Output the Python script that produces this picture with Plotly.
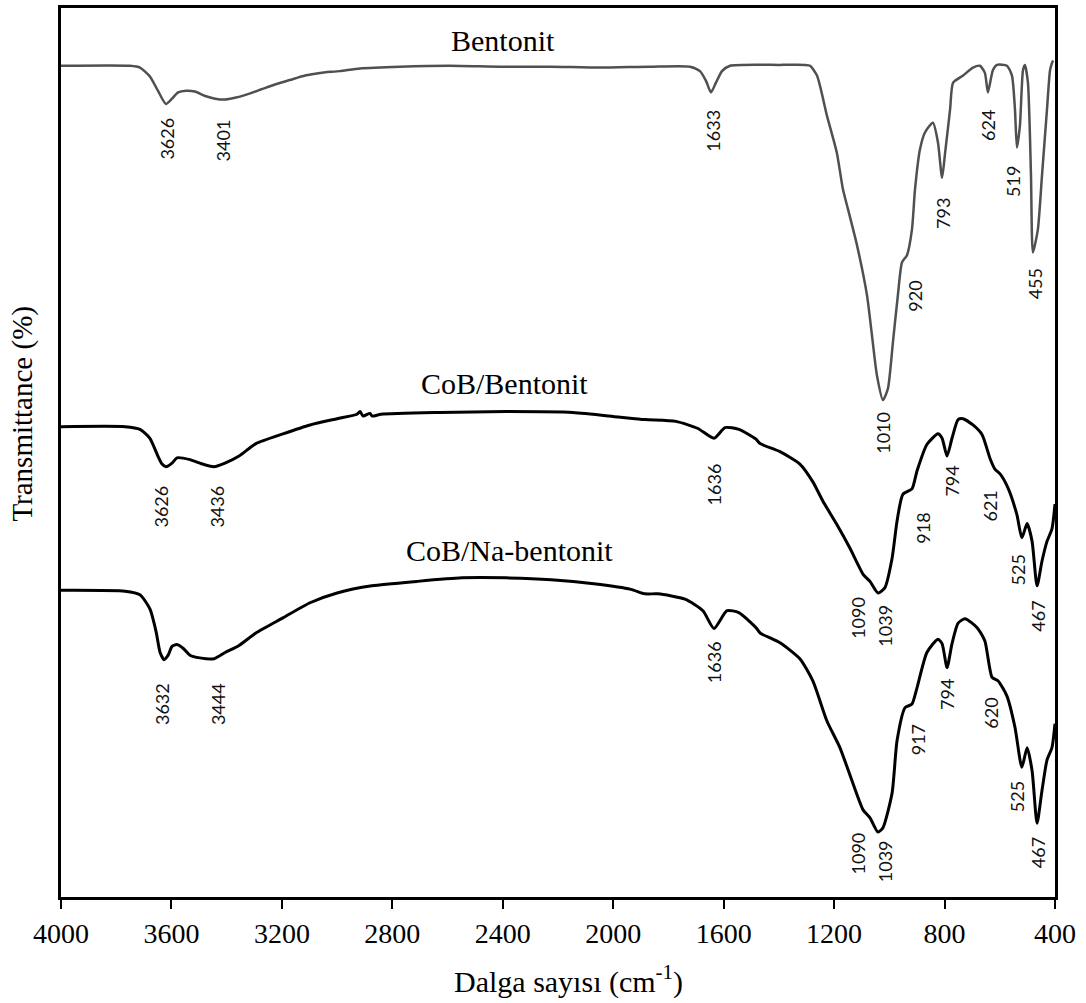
import plotly.graph_objects as go

# ---------------- data (wavenumber cm-1, transmittance in arbitrary offset units) -------------
bentonit_wn = [4000, 3750, 3714, 3678, 3649, 3620, 3598, 3576, 3547, 3515, 3478, 3442, 3406, 3370, 3334,
               3279, 3225, 3171, 3116, 3062, 2990, 2917, 2772, 2591, 2410, 2229, 2048, 1867, 1722, 1686,
               1664, 1646, 1628, 1606, 1577, 1396, 1306, 1287, 1262, 1226, 1190, 1168, 1150, 1117, 1081,
               1063, 1045, 1023, 1005, 987, 969, 954, 936, 918, 907, 889, 871, 842, 824, 809,
               798, 780, 769, 733, 697, 672, 654, 643, 625, 610, 574, 556, 545, 538, 527,
               516, 509, 498, 487, 480, 462, 447, 429, 418, 411, 407]
bentonit_t = [93.5, 93.5, 93.3, 92.3, 90.7, 89.2, 89.8, 90.5, 90.7, 90.6, 90.1, 89.8, 89.7, 89.9, 90.2,
              90.8, 91.4, 91.9, 92.4, 92.7, 92.9, 93.2, 93.4, 93.5, 93.4, 93.4, 93.3, 93.4, 93.4, 92.9,
              91.8, 90.5, 91.6, 92.9, 93.5, 93.6, 93.6, 93.5, 92.4, 87.9, 83.7, 79.6, 77.4, 73.3, 67.7,
              63.2, 58.7, 55.9, 57.2, 62.4, 67.7, 71.4, 72.2, 75.1, 79.6, 84.1, 86.0, 87.1, 84.9, 80.9,
              83.7, 88.6, 91.6, 92.4, 93.3, 93.5, 92.7, 90.5, 93.0, 93.6, 93.5, 92.4, 88.6, 84.3, 86.8,
              93.0, 93.6, 91.6, 81.2, 72.5, 75.1, 81.2, 88.6, 93.0, 93.8, 94.1]

cob_wn = [4000, 3768, 3714, 3678, 3649, 3634, 3620, 3598, 3580, 3533, 3497, 3446, 3406, 3355, 3294,
          3196, 3098, 3000, 2928, 2917, 2906, 2881, 2873, 2841, 2631, 2388, 2146, 1983, 1885, 1773,
          1693, 1635, 1595, 1545, 1483, 1468, 1396, 1324, 1277, 1240, 1190, 1142, 1095, 1070, 1041,
          1016, 990, 972, 951, 918, 900, 864, 824, 809, 791, 773, 751, 733, 697, 664,
          635, 617, 599, 570, 538, 520, 501, 483, 465, 447, 429, 411, 400]
cob_t = [52.9, 52.9, 52.6, 51.6, 49.6, 48.7, 48.4, 48.8, 49.4, 49.2, 48.8, 48.4, 48.8, 49.6, 51.0,
         52.1, 53.1, 53.8, 54.3, 54.6, 54.1, 54.4, 54.1, 54.3, 54.5, 54.6, 54.5, 54.0, 53.7, 53.5,
         52.7, 51.6, 52.8, 52.6, 51.5, 51.0, 50.1, 48.7, 46.7, 44.5, 41.9, 39.2, 36.3, 35.5, 34.2,
         34.8, 38.1, 42.3, 45.3, 45.9, 47.9, 50.9, 52.1, 51.6, 49.6, 51.6, 53.7, 53.8, 53.1, 52.0,
         49.3, 48.1, 47.6, 46.0, 43.0, 40.4, 42.0, 40.0, 35.0, 37.8, 40.0, 41.4, 44.2]

na_wn = [4000, 3768, 3714, 3678, 3656, 3641, 3627, 3612, 3598, 3580, 3555, 3533, 3497, 3446, 3406,
         3355, 3294, 3196, 3098, 3000, 2874, 2711, 2548, 2388, 2225, 2062, 1936, 1885, 1838, 1740,
         1675, 1635, 1588, 1545, 1483, 1468, 1396, 1324, 1277, 1226, 1179, 1132, 1095, 1070, 1041,
         1023, 990, 972, 943, 918, 900, 864, 824, 809, 791, 773, 751, 726, 682, 654,
         628, 606, 574, 545, 520, 501, 483, 465, 447, 429, 411, 400]
na_t = [34.5, 34.4, 34.0, 32.4, 29.9, 27.5, 26.7, 27.2, 28.2, 28.4, 27.9, 27.2, 26.9, 26.8, 27.5,
        28.3, 29.7, 31.4, 33.1, 34.2, 35.0, 35.5, 35.9, 35.9, 35.7, 35.2, 34.6, 34.1, 34.1, 33.5,
        32.2, 30.2, 32.2, 32.0, 30.3, 29.7, 28.6, 26.8, 24.3, 19.8, 16.8, 12.8, 9.8, 8.9, 7.3,
        7.8, 11.7, 17.6, 21.3, 21.7, 23.5, 27.5, 29.0, 28.5, 25.8, 28.5, 30.8, 31.3, 30.3, 28.8,
        24.7, 24.3, 22.6, 19.1, 14.6, 16.8, 14.2, 8.3, 12.0, 15.4, 16.8, 19.5]

# peak labels: text, wavenumber position, top of label (same y units)
bentonit_peaks = ["3626", "3401", "1633", "1010", "920", "793", "624", "519", "455"]
bentonit_peak_x = [3616, 3413, 1642, 1023, 907, 806, 643, 552, 472]
bentonit_peak_y = [87.9, 87.7, 88.8, 54.8, 69.5, 78.9, 88.8, 82.4, 70.9]

cob_peaks = ["3626", "3436", "1636", "1090", "1039", "918", "794", "621", "525", "467"]
cob_peak_x = [3638, 3435, 1635, 1113, 1016, 878, 773, 635, 534, 462]
cob_peak_y = [46.5, 46.5, 49.0, 34.0, 33.1, 43.4, 48.7, 45.9, 38.7, 33.6]

na_peaks = ["3632", "3444", "1636", "1090", "1039", "917", "794", "620", "525", "467"]
na_peak_x = [3634, 3431, 1635, 1113, 1016, 896, 791, 635, 538, 462]
na_peak_y = [24.3, 24.3, 29.0, 7.5, 6.6, 19.6, 24.7, 22.6, 13.3, 7.0]

series_names = ["Bentonit", "CoB/Bentonit", "CoB/Na-bentonit"]
x_ticks = [4000, 3600, 3200, 2800, 2400, 2000, 1600, 1200, 800, 400]

# ---------------- figure -------------
fig = go.Figure()
fig.add_trace(go.Scatter(x=bentonit_wn, y=bentonit_t, mode="lines", name=series_names[0],
                         line=dict(color="#505050", width=2.5, shape="spline", smoothing=0.6)))
fig.add_trace(go.Scatter(x=cob_wn, y=cob_t, mode="lines", name=series_names[1],
                         line=dict(color="#000000", width=3, shape="spline", smoothing=0.6)))
fig.add_trace(go.Scatter(x=na_wn, y=na_t, mode="lines", name=series_names[2],
                         line=dict(color="#000000", width=3, shape="spline", smoothing=0.6)))

annotations = []
label_font = dict(family="Lato, Open Sans, sans-serif", size=18, color="#111111")
for texts, xs, ys in [(bentonit_peaks, bentonit_peak_x, bentonit_peak_y),
                      (cob_peaks, cob_peak_x, cob_peak_y),
                      (na_peaks, na_peak_x, na_peak_y)]:
    for t, xv, yv in zip(texts, xs, ys):
        annotations.append(dict(x=xv, y=yv, xref="x", yref="y", text=t, showarrow=False,
                                textangle=-90, xanchor="center", yanchor="top", font=label_font))

serif = "Liberation Serif, Times New Roman, serif"
title_pos = [(0.445, 0.963), (0.446, 0.578), (0.451, 0.390)]
for name, (px, py) in zip(series_names, title_pos):
    annotations.append(dict(x=px, y=py, xref="paper", yref="paper", text=name, showarrow=False,
                            xanchor="center", yanchor="middle",
                            font=dict(family=serif, size=30, color="black")))

annotations.append(dict(x=0.511, y=-0.093, xref="paper", yref="paper",
                        text="Dalga sayısı (cm<sup>-1</sup>)", showarrow=False,
                        xanchor="center", yanchor="middle",
                        font=dict(family=serif, size=30, color="black")))
annotations.append(dict(x=-0.039, y=0.544, xref="paper", yref="paper",
                        text="Transmittance (%)", showarrow=False, textangle=-90,
                        xanchor="center", yanchor="middle",
                        font=dict(family=serif, size=29, color="black")))

fig.update_layout(
    width=1086, height=1003,
    margin=dict(l=61, r=31, t=5, b=106),
    paper_bgcolor="white", plot_bgcolor="white",
    showlegend=False,
    annotations=annotations,
    xaxis=dict(range=[4000, 400], tickvals=x_ticks, ticktext=[str(v) for v in x_ticks],
               ticks="outside", ticklen=9, tickwidth=2, tickcolor="black",
               showline=True, linewidth=3, linecolor="black", mirror=True,
               showgrid=False, zeroline=False,
               tickfont=dict(family=serif, size=28, color="black")),
    yaxis=dict(range=[0, 100], showticklabels=False, ticks="",
               showline=True, linewidth=3, linecolor="black", mirror=True,
               showgrid=False, zeroline=False),
)

fig.write_html("out.html")
